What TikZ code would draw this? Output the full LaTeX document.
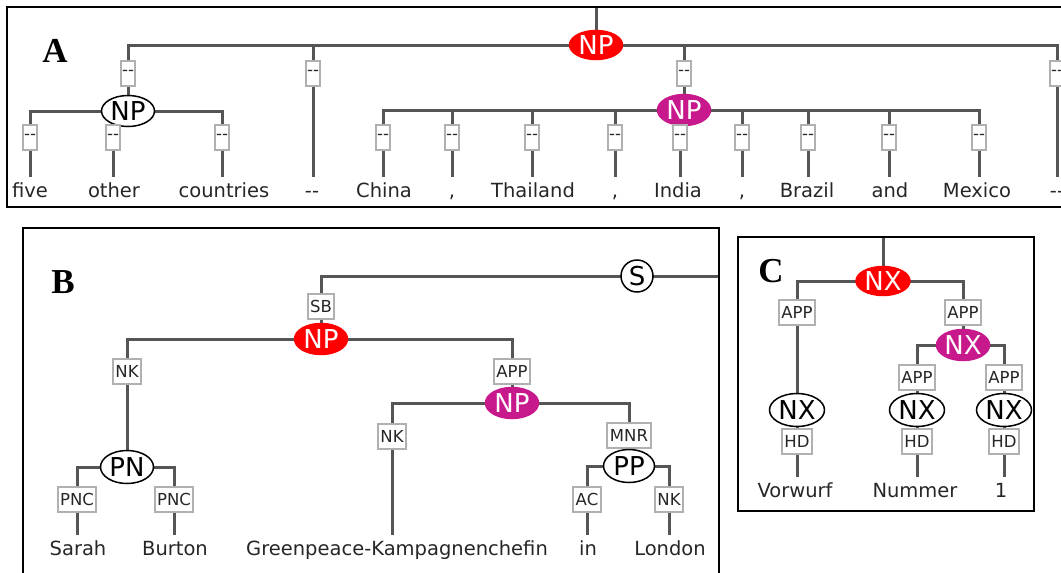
\documentclass[tikz,border=0pt]{standalone}
\usepackage{fontspec}
\setmainfont{DejaVu Sans}
\newfontfamily\panelfont{Liberation Serif}
\usetikzlibrary{shapes.geometric,backgrounds}

\definecolor{treeline}{HTML}{555555}
\definecolor{tagframe}{HTML}{B0B0B0}
\definecolor{headred}{HTML}{FF0000}
\definecolor{headmag}{HTML}{C8198C}

\tikzset{
  branch/.style={draw=treeline, line width=3pt},
  tag/.style={rectangle, draw=tagframe, fill=white, line width=2pt,
    minimum height=25pt, inner xsep=2.5pt, inner ysep=0pt,
    font=\fontsize{16.5}{16.5}\selectfont, text=black!85},
  dtag/.style={tag, inner xsep=1.5pt},
  cat/.style={ellipse, draw=black, line width=1.5pt, fill=white,
    minimum width=53pt, minimum height=31pt, inner sep=0pt,
    font=\fontsize{26}{26}\selectfont},
  catred/.style={cat, draw=headred, fill=headred, text=white},
  catmag/.style={cat, draw=headmag, fill=headmag, text=white},
  catroot/.style={circle, draw=black, line width=1.5pt, fill=white,
    minimum size=32pt, inner sep=0pt, font=\fontsize{26}{26}\selectfont},
  word/.style={anchor=base, inner sep=0pt, outer ysep=5pt,
    text height=15pt, text depth=4pt,
    font=\fontsize{19.5}{19.5}\selectfont, text=black!85},
  panel/.style={draw=black, line width=1.8pt},
  letter/.style={font=\panelfont\bfseries\fontsize{35}{35}\selectfont},
}

\begin{document}
\begin{tikzpicture}[x=1pt,y=-1pt]
\useasboundingbox (0,0) rectangle (1061,573);

% frames of the three panels
\draw[panel] (7,7) rectangle (1075,207);
\draw[panel] (23,228) rectangle (719,590);
\draw[panel] (738,237) rectangle (1034,511);

\node[letter] (letA) at (55,51) {A};
\node[letter] (letB) at (63,282) {B};
\node[letter] (letC) at (771,271) {C};

% ---------------- panel A ----------------
\coordinate (topA) at (596,7);
\node[catred, minimum height=29pt] (npA) at (596,45) {NP};
\node[dtag] (tA1) at (128,73) {-{}-};
\node[cat] (npA1) at (128,111) {NP};
\node[dtag] (tA2) at (313,73) {-{}-};
\node[word] (wA2) at (312,197) {-{}-};
\node[dtag] (tA3) at (684,73) {-{}-};
\node[catmag] (npA2) at (684,110) {NP};
\node[dtag] (tA4) at (1057,73) {-{}-};
\node[word] (wA4) at (1057,197) {-{}-};

\begin{scope}[on background layer]
  \draw[branch] (topA) -- (npA.center);
  \draw[branch] (npA.center) -| (tA1.north);
  \draw[branch] (npA.center) -| (tA2.north);
  \draw[branch] (npA.center) -| (tA3.north);
  \draw[branch] (npA.center) -| (tA4.north);
  \draw[branch] (tA1.south) -- (npA1.north);
  \draw[branch] (tA3.south) -- (npA2.north);
  \draw[branch] (tA2.south) -- (tA2.south |- wA2.north);
  \draw[branch] (tA4.south) -- (tA4.south |- wA4.north);
\end{scope}

\foreach \n/\x/\wx/\w in {f/30/30/five, o/113/114/other, c/222/224/countries} {
  \node[dtag] (t\n) at (\x,137) {-{}-};
  \node[word] (w\n) at (\wx,197) {\w};
  \begin{scope}[on background layer]
    \draw[branch] (npA1.center) -| (t\n.north);
    \draw[branch] (t\n.south) -- (t\n.south |- w\n.north);
  \end{scope}
}

\foreach \n/\x/\wx/\w in {ch/383/384/China, ka/452/452/{,}, th/532/533/Thailand,
    kb/615/615/{,}, in/680/678/India, kc/742/742/{,}, br/808/807/Brazil,
    an/889/890/and, me/979/977/Mexico} {
  \node[dtag] (t\n) at (\x,137) {-{}-};
  \node[word] (w\n) at (\wx,197) {\w};
  \begin{scope}[on background layer]
    \draw[branch] (npA2.center) -| (t\n.north);
    \draw[branch] (t\n.south) -- (t\n.south |- w\n.north);
  \end{scope}
}

% ---------------- panel B ----------------
\node[catroot] (sB) at (637,276) {S};
\coordinate (rimB) at (719,276);
\node[tag] (tSB) at (321,306) {SB};
\node[catred] (npB) at (321,339) {NP};
\node[tag] (tNK1) at (127,371) {NK};
\node[cat, minimum height=33pt] (pn) at (127,467) {PN};
\node[tag] (tPNC1) at (77,499) {PNC};
\node[tag] (tPNC2) at (174,499) {PNC};
\node[word] (wSarah) at (78,555) {Sarah};
\node[word] (wBurton) at (175,555) {Burton};
\node[tag] (tAPP) at (512,371) {APP};
\node[catmag] (npB2) at (512,403) {NP};
\node[tag] (tNK2) at (392,436) {NK};
\node[word] (wGreen) at (397,555) {Greenpeace-Kampagnenchefin};
\node[tag] (tMNR) at (629,435) {MNR};
\node[cat, minimum width=51pt, minimum height=33pt] (pp) at (629,466) {PP};
\node[tag] (tAC) at (587,499) {AC};
\node[tag] (tNK3) at (669,499) {NK};
\node[word] (wIn) at (588,555) {in};
\node[word] (wLondon) at (670,555) {London};

\begin{scope}[on background layer]
  \draw[branch] (sB.center) -- (rimB);
  \draw[branch] (sB.center) -| (tSB.north);
  \draw[branch] (tSB.south) -- (npB.north);
  \draw[branch] (npB.center) -| (tNK1.north);
  \draw[branch] (npB.center) -| (tAPP.north);
  \draw[branch] (tNK1.south) -- (pn.north);
  \draw[branch] (pn.center) -| (tPNC1.north);
  \draw[branch] (pn.center) -| (tPNC2.north);
  \draw[branch] (tPNC1.south) -- (tPNC1.south |- wSarah.north);
  \draw[branch] (tPNC2.south) -- (tPNC2.south |- wBurton.north);
  \draw[branch] (tAPP.south) -- (npB2.north);
  \draw[branch] (npB2.center) -| (tNK2.north);
  \draw[branch] (npB2.center) -| (tMNR.north);
  \draw[branch] (tNK2.south) -- (tNK2.south |- wGreen.north);
  \draw[branch] (tMNR.south) -- (pp.north);
  \draw[branch] (pp.center) -| (tAC.north);
  \draw[branch] (pp.center) -| (tNK3.north);
  \draw[branch] (tAC.south) -- (tAC.south |- wIn.north);
  \draw[branch] (tNK3.south) -- (tNK3.south |- wLondon.north);
\end{scope}

% ---------------- panel C ----------------
\coordinate (topC) at (883,237);
\node[catred, minimum width=54pt, minimum height=29pt] (nxC) at (883,281) {NX};
\node[tag] (tC1) at (797,312) {APP};
\node[cat, minimum width=55pt, minimum height=33pt] (nxC1) at (797,410) {NX};
\node[tag] (tC1h) at (797,441) {HD};
\node[word] (wVor) at (795,497) {Vorwurf};
\node[tag] (tC2) at (963,312) {APP};
\node[catmag] (nxC2) at (963,345) {NX};
\node[tag] (tC3) at (917,377) {APP};
\node[cat, minimum width=55pt, minimum height=33pt] (nxC3) at (917,410) {NX};
\node[tag] (tC3h) at (917,441) {HD};
\node[word] (wNum) at (915,497) {Nummer};
\node[tag] (tC4) at (1004,377) {APP};
\node[cat, minimum width=55pt, minimum height=33pt] (nxC4) at (1004,410) {NX};
\node[tag] (tC4h) at (1004,441) {HD};
\node[word] (wOne) at (1001,497) {1};

\begin{scope}[on background layer]
  \draw[branch] (topC) -- (nxC.center);
  \draw[branch] (nxC.center) -| (tC1.north);
  \draw[branch] (nxC.center) -| (tC2.north);
  \draw[branch] (tC1.south) -- (nxC1.north);
  \draw[branch] (tC2.south) -- (nxC2.north);
  \draw[branch] (nxC2.center) -| (tC3.north);
  \draw[branch] (nxC2.center) -| (tC4.north);
  \draw[branch] (tC3.south) -- (nxC3.north);
  \draw[branch] (tC4.south) -- (nxC4.north);
  \draw[branch] (nxC1.south) -- (tC1h.north);
  \draw[branch] (nxC3.south) -- (tC3h.north);
  \draw[branch] (nxC4.south) -- (tC4h.north);
  \draw[branch] (tC1h.south) -- (tC1h.south |- wVor.north);
  \draw[branch] (tC3h.south) -- (tC3h.south |- wNum.north);
  \draw[branch] (tC4h.south) -- (tC4h.south |- wOne.north);
\end{scope}
\end{tikzpicture}
\end{document}
